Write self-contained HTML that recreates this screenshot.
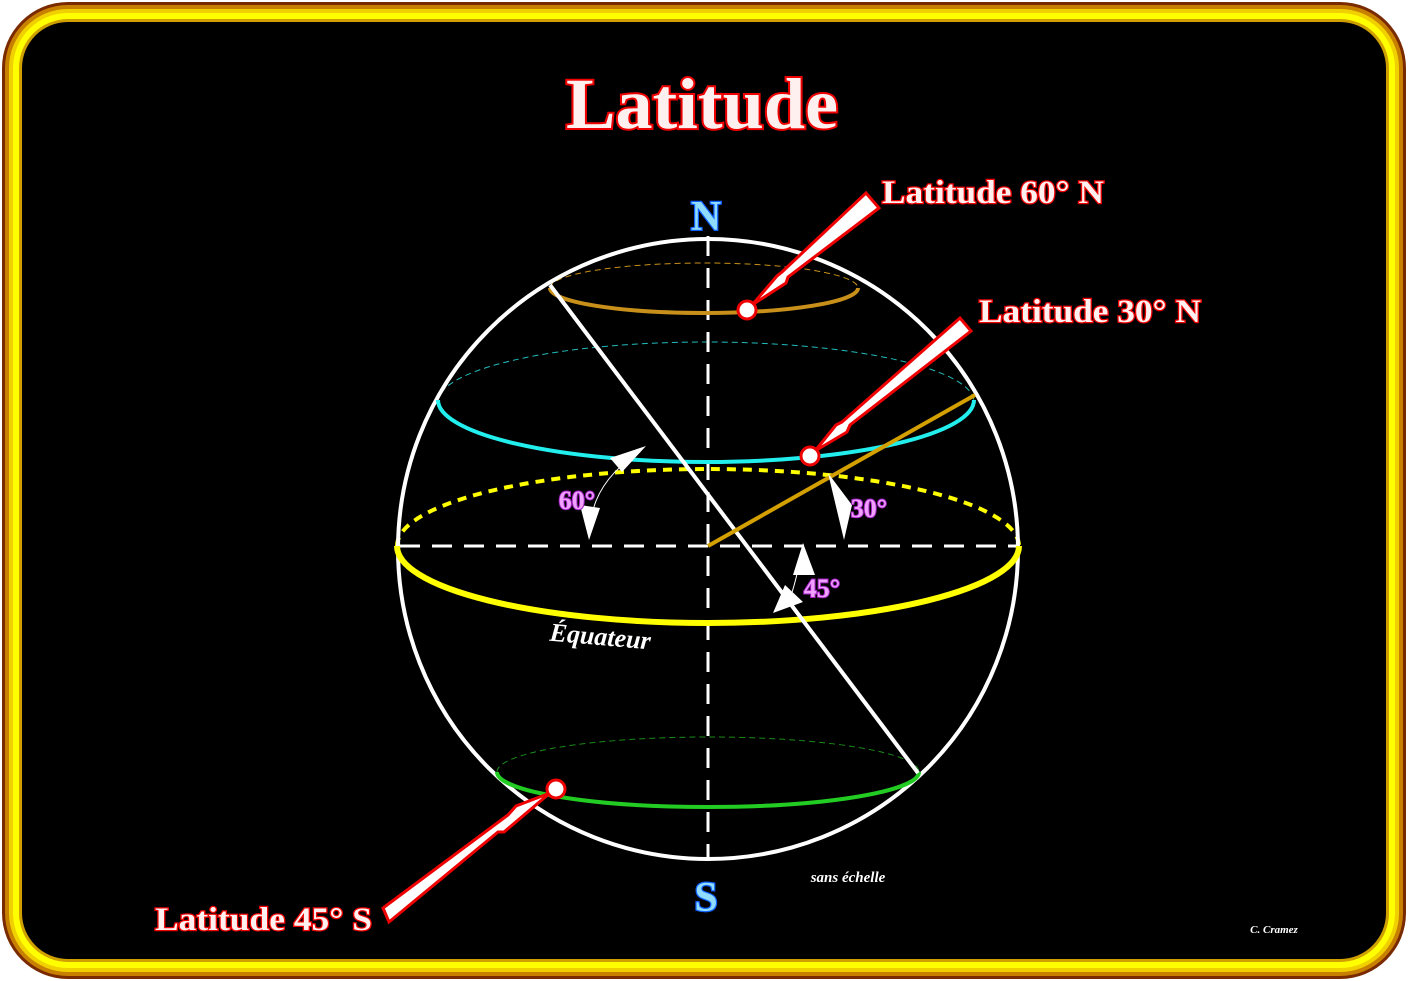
<!DOCTYPE html>
<html><head><meta charset="utf-8"><style>
html,body{margin:0;padding:0;background:#fff;}
svg{display:block;}
.lbl{font-family:"Liberation Serif",serif;font-weight:bold;fill:#fff0f0;stroke:#e00;stroke-width:2.5;paint-order:stroke;}
.ang{font-family:'Liberation Serif',serif;font-weight:bold;font-size:26px;fill:#f0a0ff;stroke:#a020c0;stroke-width:2;paint-order:stroke}
</style></head><body>
<svg width="1408" height="981" viewBox="0 0 1408 981" xmlns="http://www.w3.org/2000/svg">
<rect x="0" y="0" width="1408" height="981" fill="#fff"/>
<rect x="2" y="2" width="1404" height="977" rx="66" fill="#7a2a00"/>
<rect x="5" y="5" width="1398" height="971" rx="63" fill="#c88000"/>
<rect x="9" y="9" width="1390" height="963" rx="59" fill="#f0d000"/>
<rect x="13" y="13" width="1382" height="955" rx="55" fill="#ffff00"/>
<rect x="19" y="19" width="1370" height="943" rx="49" fill="#d0a000"/>
<rect x="22" y="22" width="1364" height="937" rx="46" fill="#000"/>

<text x="566" y="128" textLength="272" lengthAdjust="spacingAndGlyphs" class="lbl" style="font-size:72px;stroke-width:4">Latitude</text>

<path d="M550,288 A154,25 0 0 1 858,288" fill="none" stroke="#c8901a" stroke-width="1" stroke-dasharray="6,4"/>
<path d="M438,402 A268,60 0 0 1 974,402" fill="none" stroke="#2bb" stroke-width="1" stroke-dasharray="6,4"/>
<path d="M497,772 A211,35 0 0 1 919,772" fill="none" stroke="#1a8a1a" stroke-width="1" stroke-dasharray="6,4"/>
<path d="M397,546 A311,77 0 0 1 1019,546" fill="none" stroke="#ffff00" stroke-width="4" stroke-dasharray="9,7"/>

<circle cx="708" cy="549" r="310" fill="none" stroke="#fff" stroke-width="4"/>
<line x1="708" y1="236" x2="708" y2="860" stroke="#fff" stroke-width="3" stroke-dasharray="20,12"/>
<line x1="400" y1="546" x2="1018" y2="546" stroke="#fff" stroke-width="3" stroke-dasharray="20,12"/>

<path d="M550,288 A154,25 0 0 0 858,288" fill="none" stroke="#c8901a" stroke-width="4"/>
<path d="M438,400 A268,62 0 0 0 974,400" fill="none" stroke="#2ee" stroke-width="4"/>
<path d="M497,772 A211,35 0 0 0 919,772" fill="none" stroke="#2c2" stroke-width="4"/>
<path d="M397,546 A311,77 0 0 0 1019,546" fill="none" stroke="#ffff00" stroke-width="6"/>

<line x1="550" y1="285" x2="918" y2="773" stroke="#fff" stroke-width="4"/>
<line x1="708" y1="546" x2="975" y2="395" stroke="#d4a000" stroke-width="4"/>

<path d="M640,452 Q595,480 590,525" fill="none" stroke="#fff" stroke-width="1"/>
<polygon points="646,446 610,458 622,472" fill="#fff"/>
<polygon points="589,540 580,505 600,508" fill="#fff"/>
<polygon points="828,473 844,540 852,505" fill="#fff"/>
<path d="M800,560 Q795,585 790,598" fill="none" stroke="#fff" stroke-width="1"/>
<polygon points="803,543 793,575 815,575" fill="#fff"/>
<polygon points="773,613 785,585 803,602" fill="#fff"/>

<text x="577" y="509" text-anchor="middle" class="ang">60°</text>
<text x="869" y="517" text-anchor="middle" class="ang">30°</text>
<text x="822" y="597" text-anchor="middle" class="ang">45°</text>

<text x="600" y="645" text-anchor="middle" transform="rotate(5 600 640)" style="font-family:'Liberation Serif',serif;font-weight:bold;font-style:italic;font-size:26px;fill:#fff">Équateur</text>
<text x="848" y="882" text-anchor="middle" style="font-family:'Liberation Serif',serif;font-style:italic;font-weight:bold;font-size:15px;fill:#fff">sans échelle</text>
<text x="1274" y="933" text-anchor="middle" style="font-family:'Liberation Serif',serif;font-style:italic;font-weight:bold;font-size:11px;fill:#fff">C. Cramez</text>

<text x="706" y="230" text-anchor="middle" style="font-family:'Liberation Serif',serif;font-weight:bold;font-size:42px;fill:#8fdcff;stroke:#1060ff;stroke-width:2.5;paint-order:stroke">N</text>
<text x="706" y="911" text-anchor="middle" style="font-family:'Liberation Serif',serif;font-weight:bold;font-size:42px;fill:#8fdcff;stroke:#1060ff;stroke-width:2.5;paint-order:stroke">S</text>

<g fill="#fff" stroke="#e00" stroke-width="3" stroke-linejoin="miter">
<polygon points="866,193 879,208 788,277 786,283 752,305 777,276 782,272"/>
<polygon points="960,318 971,331 850,425 847,432 815,451 836,425 842,422"/>
<polygon points="383,908 389,922 498,832 504,832 550,793 516,806 508,815"/>
</g>
<g fill="#fff" stroke="#e00" stroke-width="3">
<circle cx="747" cy="310" r="9"/>
<circle cx="810" cy="456" r="9"/>
<circle cx="556" cy="789" r="9"/>
</g>

<text x="882" y="203" textLength="222" lengthAdjust="spacingAndGlyphs" class="lbl" style="font-size:33px">Latitude 60° N</text>
<text x="979" y="322" textLength="222" lengthAdjust="spacingAndGlyphs" class="lbl" style="font-size:33px">Latitude 30° N</text>
<text x="155" y="930" textLength="217" lengthAdjust="spacingAndGlyphs" class="lbl" style="font-size:33px">Latitude 45° S</text>
</svg>
</body></html>
